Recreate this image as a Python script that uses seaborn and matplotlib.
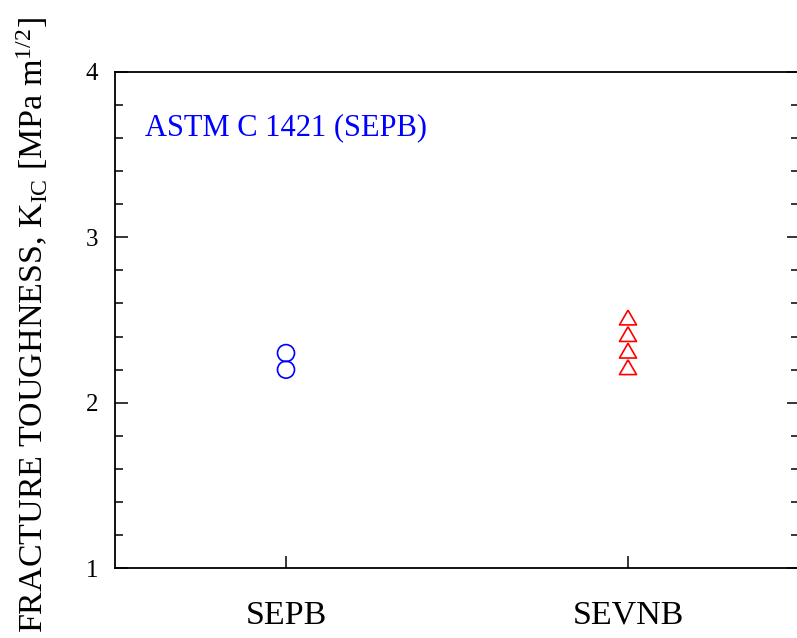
import matplotlib
matplotlib.use("Agg")
import matplotlib.pyplot as plt
import seaborn as sns
import pandas as pd
import numpy as np
from matplotlib.ticker import MultipleLocator

# ---- data ----
methods = ["SEPB", "SEVNB"]
sepb_values = [2.3, 2.2]
sevnb_values = [2.5, 2.4, 2.3, 2.2]
y_ticks = [1, 2, 3, 4]
annotation = "ASTM C 1421 (SEPB)"
ylabel = r"FRACTURE TOUGHNESS, K$_{\mathrm{IC}}$ [MPa m$^{1/2}$]"

sns.set_style("ticks")
plt.rcParams["font.family"] = ["Liberation Serif", "DejaVu Serif"]
plt.rcParams["mathtext.fontset"] = "custom"
plt.rcParams["mathtext.rm"] = "Liberation Serif"
plt.rcParams["mathtext.it"] = "Liberation Serif:italic"
for key in ["text.color", "axes.edgecolor", "axes.labelcolor", "xtick.color", "ytick.color"]:
    plt.rcParams[key] = "black"

df_sepb = pd.DataFrame({"method": [methods[0]] * len(sepb_values), "k": sepb_values})
df_sevnb = pd.DataFrame({"method": [methods[1]] * len(sevnb_values), "k": sevnb_values})

fig = plt.figure(figsize=(7.97, 6.38), dpi=100)
ax = fig.add_axes([115 / 797, (638 - 568.3) / 638, 684 / 797, 496.6 / 638])

# triangle centred on its centroid
tri = [(0, 1), (-0.8660254, -0.5), (0.8660254, -0.5), (0, 1)]

sns.scatterplot(data=df_sepb, x="method", y="k", ax=ax, marker="o", s=150,
                facecolor="none", edgecolor="#0000ff", color="#0000ff",
                linewidth=1.2, legend=False, zorder=3)
sns.scatterplot(data=df_sevnb, x="method", y="k", ax=ax, marker=tri, s=200,
                facecolor="none", edgecolor="#ff0000", color="#ff0000",
                linewidth=1.2, legend=False, zorder=3)

ax.set_xlim(-0.5, 1.5)
ax.set_ylim(1, 4)
ax.set_yticks(y_ticks)
ax.yaxis.set_minor_locator(MultipleLocator(0.2))
ax.set_xticks([0, 1])
ax.set_xticklabels(methods)

for s in ax.spines.values():
    s.set_linewidth(1.3)
    s.set_color("black")
    s.set_visible(True)

ax.tick_params(axis="y", which="major", direction="in", length=9, width=1.1,
               left=True, right=True, labelsize=18, pad=12, colors="black")
ax.tick_params(axis="y", which="minor", direction="in", length=5.5, width=1.1,
               left=True, right=True, colors="black")
ax.tick_params(axis="x", which="major", direction="in", length=9, width=1.1,
               top=False, bottom=True, labelsize=24.5, pad=23, colors="black")

ax.set_xlabel("")
ax.set_ylabel(ylabel, fontsize=24.5, color="black")
ax.yaxis.set_label_coords(-0.095, 0.49)

ax.text(0.044, 0.8725, annotation, transform=ax.transAxes, color="#0000ff",
        fontsize=22, ha="left", va="baseline")

fig.savefig("out.png", dpi=100)
